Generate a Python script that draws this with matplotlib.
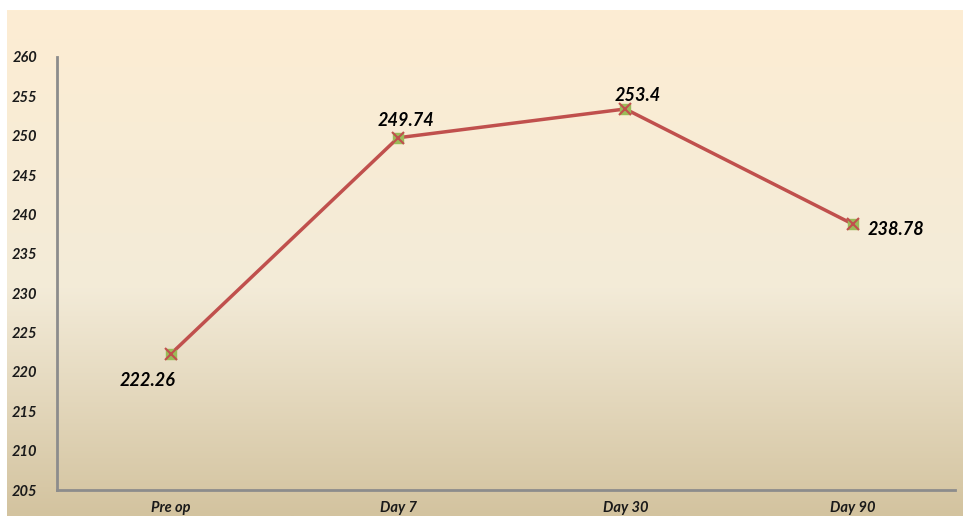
import numpy as np
import matplotlib
matplotlib.use('Agg')
import matplotlib.pyplot as plt
from matplotlib.colors import LinearSegmentedColormap

categories = ["Pre op", "Day 7", "Day 30", "Day 90"]
values = [222.26, 249.74, 253.4, 238.78]
value_labels = ["222.26", "249.74", "253.4", "238.78"]
y_ticks = list(range(205, 261, 5))

plt.rcParams['font.family'] = ['Lato', 'DejaVu Sans']

fig = plt.figure(figsize=(9.63, 5.16), dpi=100)
fig.patch.set_facecolor('white')

# background gradient panel
bg = fig.add_axes([7 / 963, 0, 1 - 7 / 963, 1 - 10 / 516])
bg.set_axis_off()
cmap = LinearSegmentedColormap.from_list(
    'parch', [(0, '#fdedd3'), (0.55, '#f3ebd8'), (1, '#d3c39f')])
grad = np.linspace(0, 1, 256).reshape(-1, 1)
bg.imshow(grad, aspect='auto', cmap=cmap, extent=[0, 1, 0, 1])

ax = fig.add_axes([57 / 963, 1 - 490 / 516, 1 - 57 / 963 - 8 / 963, (490 - 57) / 516])
ax.patch.set_alpha(0)
x = np.arange(len(categories))
ax.plot(x, values, color='#c0504d', lw=2.5, zorder=3)
ax.plot(x, values, ls='none', marker='s', ms=7, color='#9bbb59', zorder=4)
ax.plot(x, values, ls='none', marker='x', ms=8, mew=1.5, color='#c0504d', zorder=5)

offsets = [(-16.5, -18.7), (5.8, 12.2), (8.6, 10), (31, -3.6)]
for xi, v, lab, (dx, dy) in zip(x, values, value_labels, offsets):
    ax.annotate(lab, (xi, v), xytext=(dx, dy), textcoords='offset points',
                ha='center', va='center', fontsize=13, fontweight='bold',
                fontstyle='italic', color='black')

ax.set_xlim(-0.5, 3.45)
ax.set_ylim(205, 260)
ax.set_yticks(y_ticks)
ax.set_xticks(x)
ax.set_xticklabels(categories)
for lbl in ax.get_xticklabels() + ax.get_yticklabels():
    lbl.set_fontweight('bold')
    lbl.set_fontstyle('italic')
    lbl.set_fontsize(10.5)
    lbl.set_color('#1a1a1a')
ax.tick_params(axis='both', length=0)
ax.tick_params(axis='y', pad=14)
ax.tick_params(axis='x', pad=8)
for s in ['top', 'right']:
    ax.spines[s].set_visible(False)
for s in ['left', 'bottom']:
    ax.spines[s].set_color('#8c8c8c')
    ax.spines[s].set_linewidth(2)

fig.savefig('out.png', dpi=100)
